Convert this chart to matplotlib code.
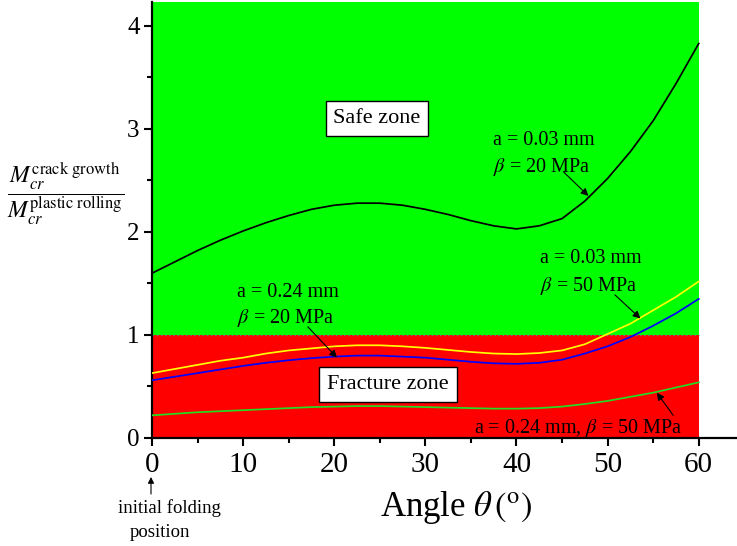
import matplotlib
matplotlib.use("Agg")
import matplotlib.pyplot as plt

# Bending angle (degrees)
angle = [0, 2.5, 5, 7.5, 10, 12.5, 15, 17.5, 20, 22.5, 25, 27.5, 30,
         32.5, 35, 37.5, 40, 42.5, 45, 47.5, 50, 52.5, 55, 57.5, 60]

# Moment ratio M_cr(crack growth) / M_cr(plastic rolling)
ratio_a003_b20 = [1.60, 1.71, 1.82, 1.92, 2.01, 2.09, 2.16, 2.22, 2.26, 2.28,
                  2.28, 2.26, 2.22, 2.17, 2.11, 2.06, 2.03, 2.06, 2.13, 2.30,
                  2.52, 2.78, 3.08, 3.44, 3.83]
ratio_a003_b50 = [0.63, 0.67, 0.71, 0.75, 0.78, 0.82, 0.85, 0.87, 0.89, 0.90,
                  0.90, 0.89, 0.875, 0.855, 0.835, 0.82, 0.815, 0.825, 0.85,
                  0.91, 1.01, 1.11, 1.24, 1.37, 1.52]
ratio_a024_b20 = [0.56, 0.595, 0.63, 0.665, 0.70, 0.73, 0.755, 0.775, 0.79,
                  0.80, 0.80, 0.79, 0.78, 0.76, 0.74, 0.725, 0.72, 0.73, 0.76,
                  0.82, 0.89, 0.98, 1.09, 1.21, 1.35]
ratio_a024_b50 = [0.22, 0.235, 0.25, 0.26, 0.27, 0.28, 0.29, 0.30, 0.305, 0.31,
                  0.31, 0.305, 0.30, 0.295, 0.29, 0.285, 0.285, 0.29, 0.305,
                  0.33, 0.36, 0.40, 0.44, 0.49, 0.54]

x_ticks = [0, 10, 20, 30, 40, 50, 60]
y_ticks = [0, 1, 2, 3, 4]
threshold = 1.0

plt.rcParams["font.family"] = ["Liberation Serif", "DejaVu Serif"]
plt.rcParams["mathtext.fontset"] = "stix"

fig = plt.figure(figsize=(7.37, 5.46), dpi=100)
ax = fig.add_axes([152 / 737, 1 - 438 / 546, 1 - 152 / 737, 436 / 546])
ymax = 4.233
ax.set_xlim(0, 64.2)
ax.set_ylim(0, ymax)

# Zone backgrounds
ax.fill_between([0, 60], threshold, ymax, color="#00ff00", lw=0, zorder=0)
ax.fill_between([0, 60], 0, threshold, color="#ff0000", lw=0, zorder=0)
ax.plot([0, 60], [threshold, threshold], color="#777777", lw=1.0,
        ls=(0, (1.2, 1.8)), zorder=1)

lw = 1.25
ax.plot(angle, ratio_a003_b20, color="black", lw=lw, zorder=3)
ax.plot(angle, ratio_a003_b50, color="#ffff00", lw=lw, zorder=3)
ax.plot(angle, ratio_a024_b20, color="#0000ff", lw=lw, zorder=3)
ax.plot(angle, ratio_a024_b50, color="#22dd22", lw=lw, zorder=3)

for s in ("top", "right"):
    ax.spines[s].set_visible(False)
for s in ("left", "bottom"):
    ax.spines[s].set_linewidth(1.6)

ax.set_xticks(x_ticks)
ax.set_xticks([5, 15, 25, 35, 45, 55], minor=True)
ax.set_yticks(y_ticks)
ax.set_yticks([0.5, 1.5, 2.5, 3.5], minor=True)
ax.tick_params(which="major", direction="out", length=6, width=1.5)
ax.tick_params(which="minor", direction="out", length=3.5, width=1.5)
ax.tick_params(axis="x", labelsize=21, pad=4)
ax.tick_params(axis="y", labelsize=18, pad=3)

ax.set_xlabel(r"Angle $\theta\,(^{\mathrm{o}})$", fontsize=25, labelpad=2)
ax.xaxis.set_label_coords((456 - 152) / 585, -0.118)

fig.text(66 / 737, 1 - 194 / 546,
         r"$\dfrac{M_{cr}^{\mathrm{crack\ growth}}}{M_{cr}^{\mathrm{plastic\ rolling}}}$",
         fontsize=17, ha="center", va="center")

box = dict(boxstyle="square,pad=0.35", fc="white", ec="black", lw=1.0)
ax.text(24.7, 3.10, "Safe zone", fontsize=16, ha="center", va="center",
        bbox=box, zorder=5)
ax.text(25.9, 0.52, "Fracture zone", fontsize=16, ha="center", va="center",
        bbox=box, zorder=5)

fs = 14.5
ax.text(37.4, 2.84, "a = 0.03 mm", fontsize=fs, va="baseline", zorder=5)
ax.text(37.4, 2.58, r"$\beta$ = 20 MPa", fontsize=fs, va="baseline", zorder=5)
ax.text(42.6, 1.70, "a = 0.03 mm", fontsize=fs, va="baseline", zorder=5)
ax.text(42.6, 1.43, r"$\beta$ = 50 MPa", fontsize=fs, va="baseline", zorder=5)
ax.text(9.3, 1.37, "a = 0.24 mm", fontsize=fs, va="baseline", zorder=5)
ax.text(9.3, 1.12, r"$\beta$ = 20 MPa", fontsize=fs, va="baseline", zorder=5)
ax.text(35.3, 0.05, r"a = 0.24 mm, $\beta$ = 50 MPa", fontsize=fs,
        va="baseline", zorder=5)

arrow = dict(arrowstyle="-|>", color="black", lw=0.8, mutation_scale=11,
             shrinkA=0, shrinkB=0)
for tail, head in [((45.2, 2.58), (47.9, 2.35)),
                   ((50.8, 1.39), (53.6, 1.16)),
                   ((17.1, 1.08), (20.3, 0.78)),
                   ((57.2, 0.22), (55.4, 0.44))]:
    ax.annotate("", xy=head, xytext=tail, arrowprops=arrow, zorder=6)

# Marker for the starting position under the x axis
ax.annotate("", xy=(151 / 737, 1 - 477 / 546), xytext=(151 / 737, 1 - 494 / 546),
            xycoords="figure fraction", textcoords="figure fraction",
            annotation_clip=False,
            arrowprops=dict(arrowstyle="-|>", color="black", lw=0.8,
                            mutation_scale=9, shrinkA=0, shrinkB=0))
fig.text(169 / 737, 1 - 513 / 546, "initial folding", fontsize=13.5,
         ha="center", va="baseline")
fig.text(160 / 737, 1 - 537 / 546, "position", fontsize=13.5,
         ha="center", va="baseline")

fig.savefig("out.png", dpi=100)
